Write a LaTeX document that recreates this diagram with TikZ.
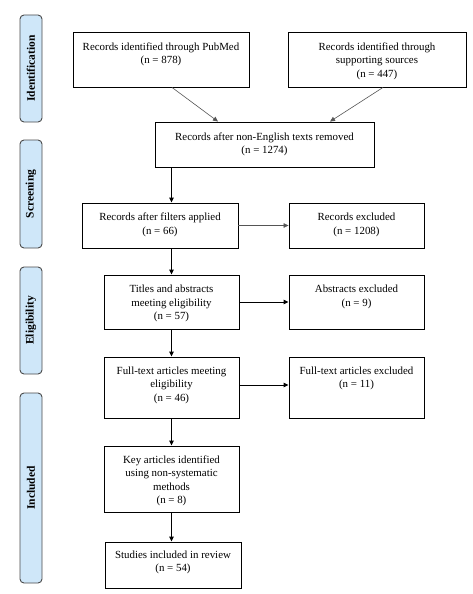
\documentclass[tikz,border=0pt]{standalone}
\usepackage{fontspec}
\setmainfont{Liberation Serif}
\usetikzlibrary{arrows.meta}
\definecolor{sideblue}{HTML}{CFE7F9}
\definecolor{sideedge}{HTML}{4A4A4A}
\definecolor{glinecol}{HTML}{555555}
\tikzset{
  box/.style={draw=black, line width=0.9pt, inner sep=0pt},
  txt/.style={anchor=north, inner sep=0pt, align=center, font=\fontsize{10.9}{13.5}\selectfont},
  side/.style={draw=sideedge, fill=sideblue, line width=0.9pt, rounded corners=4pt, minimum width=22pt, inner sep=0pt},
  sidetxt/.style={rotate=90, inner sep=0pt, font=\fontsize{11.5}{13}\selectfont\bfseries},
  arr/.style={line width=0.9pt, -{Triangle[length=5pt,width=4.5pt]}},
  garr/.style={draw=glinecol, line width=0.6pt, -{Triangle[length=5pt,width=4.5pt]}},
}
\begin{document}
\begin{tikzpicture}[x=1pt,y=-1pt]
\useasboundingbox (0,0) rectangle (473,594);
% phase boxes
\node[side, minimum height=107pt] (sI) at (31,68.5) {};
\node[sidetxt] (sIt) at (sI.center) {Identification};
\node[side, minimum height=108pt] (sS) at (31,194) {};
\node[sidetxt] (sSt) at (sS.center) {Screening};
\node[side, minimum height=107pt] (sE) at (31,320.5) {};
\node[sidetxt] (sEt) at (sE.center) {Eligibility};
\node[side, minimum height=190pt] (sN) at (31,488) {};
\node[sidetxt] (sNt) at (sN.center) {Included};
% boxes
\node[box, minimum width=176pt, minimum height=55pt] (pub) at (161,59.5) {};
\node[txt] (pubt) at (161,40.5) {\strut Records identified through PubMed\\(n = 878)};
\node[box, minimum width=178pt, minimum height=55pt] (sup) at (377,59.5) {};
\node[txt] (supt) at (377,40.5) {\strut Records identified through\\supporting sources\\(n = 447)};
\node[box, minimum width=219pt, minimum height=45pt] (neng) at (264.5,144.5) {};
\node[txt] (nengt) at (264.5,130.5) {\strut Records after non-English texts removed\\(n = 1274)};
\node[box, minimum width=156pt, minimum height=45pt] (filt) at (160,225.5) {};
\node[txt] (filtt) at (160,211) {\strut Records after filters applied\\(n = 66)};
\node[box, minimum width=135pt, minimum height=45pt] (rexc) at (356.5,225.5) {};
\node[txt] (rexct) at (356.5,211) {\strut Records excluded\\(n = 1208)};
\node[box, minimum width=135pt, minimum height=54pt] (tit) at (171.5,302) {};
\node[txt] (titt) at (171.5,283) {\strut Titles and abstracts\\meeting eligibility\\(n = 57)};
\node[box, minimum width=135pt, minimum height=54pt] (aexc) at (356.5,302) {};
\node[txt] (aexct) at (356.5,283) {\strut Abstracts excluded\\(n = 9)};
\node[box, minimum width=135pt, minimum height=61pt] (ft) at (171.5,387.5) {};
\node[txt] (ftt) at (171.5,364.5) {\strut Full-text articles meeting\\eligibility\\(n = 46)};
\node[box, minimum width=135pt, minimum height=61pt] (ftexc) at (356.5,387.5) {};
\node[txt] (ftexct) at (356.5,364.5) {\strut Full-text articles excluded\\(n = 11)};
\node[box, minimum width=135pt, minimum height=66pt] (key) at (171.5,479) {};
\node[txt] (keyt) at (171.5,453.5) {\strut Key articles identified\\using non-systematic\\methods\\(n = 8)};
\node[box, minimum width=136pt, minimum height=46pt] (stud) at (173,565) {};
\node[txt] (studt) at (173,548.5) {\strut Studies included in review\\(n = 54)};
% connectors
\draw[garr] ([xshift=11pt]pub.south) -- ([xshift=-46.5pt]neng.north);
\draw[garr] ([xshift=6pt]sup.south) -- ([xshift=65.5pt]neng.north);
\draw[arr] (neng.south -| tit.north) -- (filt.north -| tit.north);
\draw[arr] (filt.south -| tit.north) -- (tit.north);
\draw[garr] (filt.east) -- (rexc.west);
\draw[arr] (tit.east) -- (aexc.west);
\draw[arr] (tit.south) -- (ft.north);
\draw[arr] ([yshift=2.5pt]ft.east) -- ([yshift=2.5pt]ftexc.west);
\draw[arr] (ft.south) -- (key.north);
\draw[arr] (key.south) -- (key.south |- stud.north);
\end{tikzpicture}
\end{document}
